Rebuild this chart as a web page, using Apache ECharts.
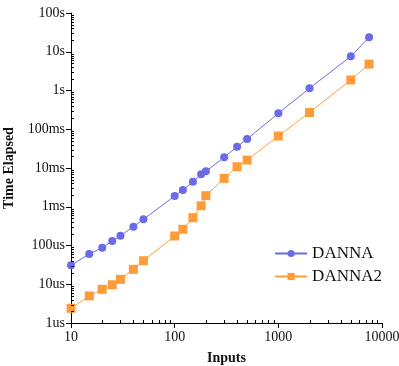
<!DOCTYPE html>
<html>
<head>
<meta charset="utf-8">
<script src="https://cdn.jsdelivr.net/npm/echarts@6/dist/echarts.min.js"></script>
<style>
  html, body { margin: 0; padding: 0; background: #fff; }
  #chart { width: 399px; height: 366px; }
</style>
</head>
<body>
<div id="chart"></div>
<script>
// inputs (x) shared by both series
const inputs = [10, 15, 20, 25, 30, 40, 50, 100, 120, 150, 180, 200, 300, 400, 500, 1000, 2000, 5000, 7500]
// time elapsed in seconds
const danna = [31e-6, 60e-6, 88e-6, 131e-6, 179e-6, 306e-6, 474e-6, 1.89e-3, 2.7e-3, 4.4e-3, 6.9e-3, 8.2e-3,
    18.9e-3, 35.5e-3, 56e-3, 0.258, 1.14, 7.6, 23.6]
const danna2 = [2.4e-6, 5.0e-6, 7.4e-6, 9.7e-6, 13.4e-6, 24.3e-6, 40.5e-6, 176e-6, 262e-6, 521e-6, 1.06e-3, 1.93e-3,
    5.4e-3, 10.8e-3, 16e-3, 67e-3, 0.27, 1.87, 4.8]
const xDecades = [10, 100, 1000]
const yDecades = [1e-6, 1e-5, 1e-4, 1e-3, 1e-2, 1e-1, 1, 10]
const minorSteps = [2, 3, 4, 5, 6, 7, 8, 9]

const FONT = 'Liberation Serif'
const BLUE = '#6b6be8'
const ORANGE = '#ff9c3a'

function timeLabel(v) {
    if (v >= 1) return Math.round(v) + 's'
    if (v >= 1e-3) return Math.round(v * 1e3) + 'ms'
    return Math.round(v * 1e6) + 'us'
}

const chart = echarts.init(document.getElementById('chart'))
chart.setOption({
    animation: false,
    textStyle: { fontFamily: FONT },
    grid: { left: 71, right: 17, top: 13, bottom: 43, containLabel: false, outerBoundsMode: 'none' },
    legend: {
        right: 12,
        top: 240,
        orient: 'vertical',
        itemWidth: 32,
        itemHeight: 9,
        itemGap: 6,
        data: ['DANNA', 'DANNA2'],
        textStyle: { fontFamily: FONT, fontSize: 17, color: '#111' },
    },
    xAxis: {
        type: 'log',
        logBase: 10,
        min: 10,
        max: 10000,
        name: 'Inputs',
        nameLocation: 'middle',
        nameGap: 28,
        nameTextStyle: { fontFamily: FONT, fontSize: 14, fontWeight: 'bold', color: '#111' },
        axisLine: { onZero: false, lineStyle: { color: '#000', width: 1 } },
        axisTick: { show: true, length: 5, lineStyle: { color: '#000' } },
        axisLabel: { fontFamily: FONT, fontSize: 14, color: '#111', margin: 7, formatter: v => String(v) },
        splitLine: { show: false },
    },
    yAxis: {
        type: 'log',
        logBase: 10,
        min: 1e-6,
        max: 100,
        interval: 1,
        name: 'Time Elapsed',
        nameLocation: 'middle',
        nameGap: 54,
        nameTextStyle: { fontFamily: FONT, fontSize: 14, fontWeight: 'bold', color: '#111' },
        axisLine: { show: true, onZero: false, lineStyle: { color: '#000', width: 1 } },
        axisTick: { show: true, length: 5, lineStyle: { color: '#000' } },
        axisLabel: { fontFamily: FONT, fontSize: 14, color: '#111', margin: 6, formatter: timeLabel },
        splitLine: { show: false },
    },
    series: [
        {
            name: 'DANNA',
            type: 'line',
            data: inputs.map((x, i) => [x, danna[i]]),
            symbol: 'circle',
            symbolSize: 8,
            itemStyle: { color: BLUE },
            lineStyle: { color: BLUE, width: 1 },
        },
        {
            name: 'DANNA2',
            type: 'line',
            data: inputs.map((x, i) => [x, danna2[i]]),
            symbol: 'rect',
            symbolSize: 9,
            itemStyle: { color: ORANGE },
            lineStyle: { color: ORANGE, width: 1 },
        },
    ],
})

// minor ticks placed through the axes' own scales
const finder = { xAxisIndex: 0, yAxisIndex: 0 }
const origin = chart.convertToPixel(finder, [10, 1e-6])
const ticks = []
xDecades.forEach(d => minorSteps.forEach(s => {
    const p = chart.convertToPixel(finder, [d * s, 1e-6])
    const x = Math.round(p[0]) + 0.5
    ticks.push({ type: 'line', silent: true, z: 10,
        shape: { x1: x, y1: origin[1], x2: x, y2: origin[1] - 3 },
        style: { stroke: '#000', lineWidth: 1 } })
}))
yDecades.forEach(d => minorSteps.forEach(s => {
    const p = chart.convertToPixel(finder, [10, d * s])
    const y = Math.round(p[1]) + 0.5
    ticks.push({ type: 'line', silent: true, z: 10,
        shape: { x1: origin[0], y1: y, x2: origin[0] + 3, y2: y },
        style: { stroke: '#000', lineWidth: 1 } })
}))
chart.setOption({ graphic: ticks })
</script>
</body>
</html>
